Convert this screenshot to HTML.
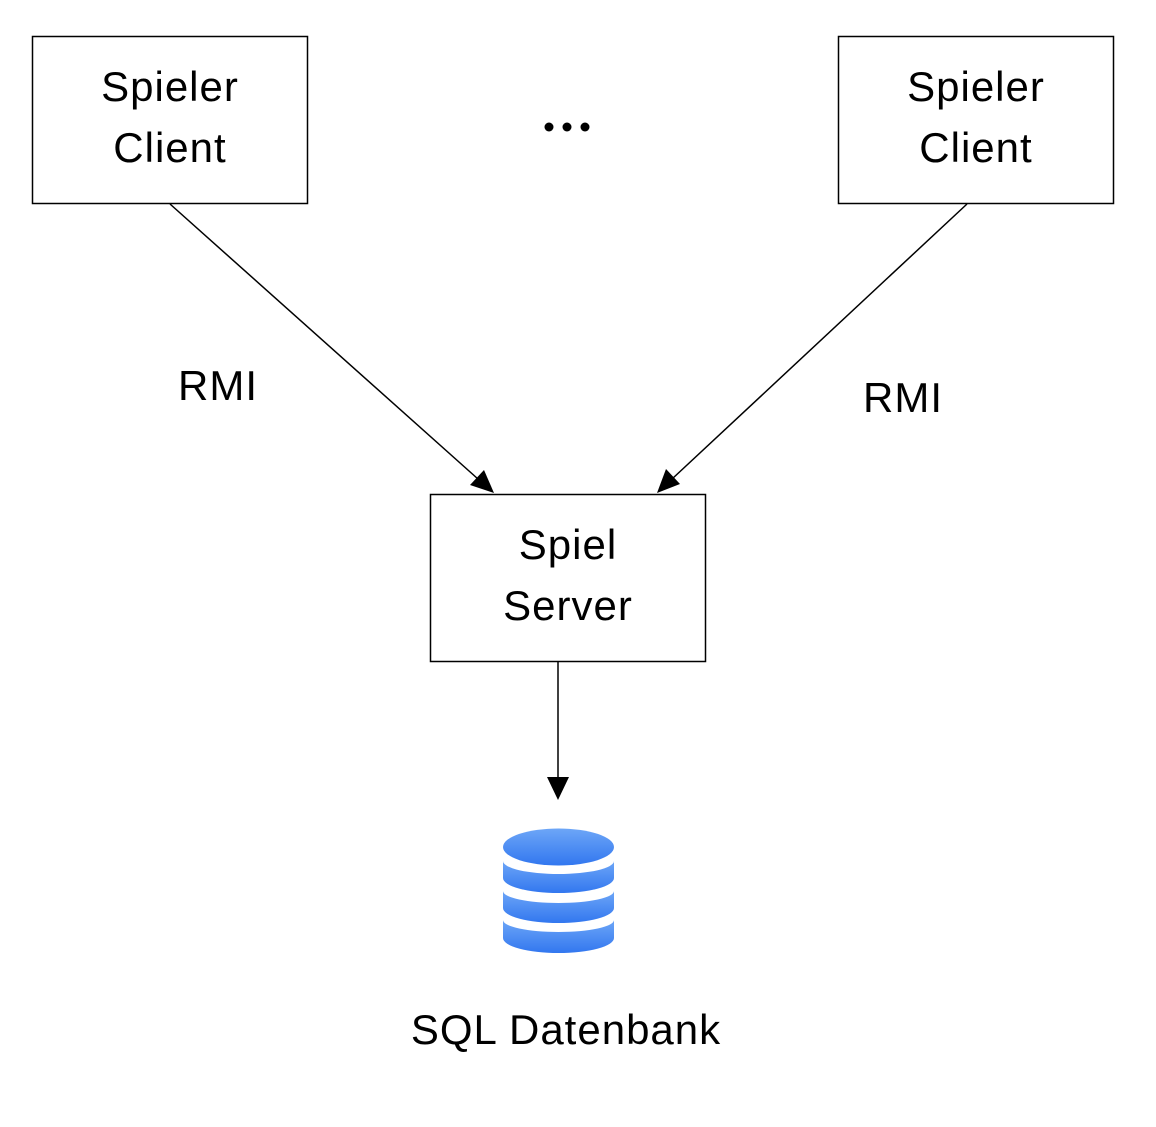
<!DOCTYPE html>
<html><head><style>
html,body{margin:0;padding:0;background:#fff;}
svg text{font-family:"Liberation Sans",sans-serif;font-size:42px;letter-spacing:1px;fill:#000;}
</style></head><body>
<svg width="1156" height="1122" viewBox="0 0 1156 1122" xmlns="http://www.w3.org/2000/svg">
<defs>
<linearGradient id="g" x1="0" y1="0" x2="0" y2="1">
<stop offset="0" stop-color="#6da6f7"/><stop offset="1" stop-color="#3277ef"/>
</linearGradient>
</defs>
<rect x="32.5" y="36.5" width="275" height="167" fill="#fff" stroke="#000" stroke-width="1.5"/>
<rect x="838.5" y="36.5" width="275" height="167" fill="#fff" stroke="#000" stroke-width="1.5"/>
<rect x="430.5" y="494.5" width="275" height="167" fill="#fff" stroke="#000" stroke-width="1.5"/>
<text x="170" y="101" text-anchor="middle">Spieler</text>
<text x="170" y="162" text-anchor="middle">Client</text>
<text x="976" y="101" text-anchor="middle">Spieler</text>
<text x="976" y="162" text-anchor="middle">Client</text>
<text x="568" y="559" text-anchor="middle">Spiel</text>
<text x="568" y="620" text-anchor="middle">Server</text>
<circle cx="549" cy="127" r="4.5" fill="#000"/>
<circle cx="567" cy="127" r="4.5" fill="#000"/>
<circle cx="585" cy="127" r="4.5" fill="#000"/>
<text x="218" y="400" text-anchor="middle">RMI</text>
<text x="903" y="412" text-anchor="middle">RMI</text>
<text x="566" y="1044" text-anchor="middle">SQL Datenbank</text>
<line x1="170" y1="204" x2="478" y2="479" stroke="#000" stroke-width="1.5"/>
<polygon points="494,493 470,485 484,470" fill="#000"/>
<line x1="967" y1="204" x2="672" y2="479" stroke="#000" stroke-width="1.5"/>
<polygon points="657,493 666,469 680,484" fill="#000"/>
<line x1="558" y1="661" x2="558" y2="780" stroke="#000" stroke-width="1.5"/>
<polygon points="547,777 569,777 558,800" fill="#000"/>
<ellipse cx="558.5" cy="847" rx="55.5" ry="18.5" fill="url(#g)"/>
<path d="M503,861 L503,878 A55.5,15 0 0 0 614,878 L614,861 A55.5,13 0 0 1 503,861 Z" fill="url(#g)"/>
<path d="M503,891 L503,908 A55.5,15 0 0 0 614,908 L614,891 A55.5,12 0 0 1 503,891 Z" fill="url(#g)"/>
<path d="M503,920 L503,938 A55.5,15 0 0 0 614,938 L614,920 A55.5,12 0 0 1 503,920 Z" fill="url(#g)"/>
</svg>
</body></html>
